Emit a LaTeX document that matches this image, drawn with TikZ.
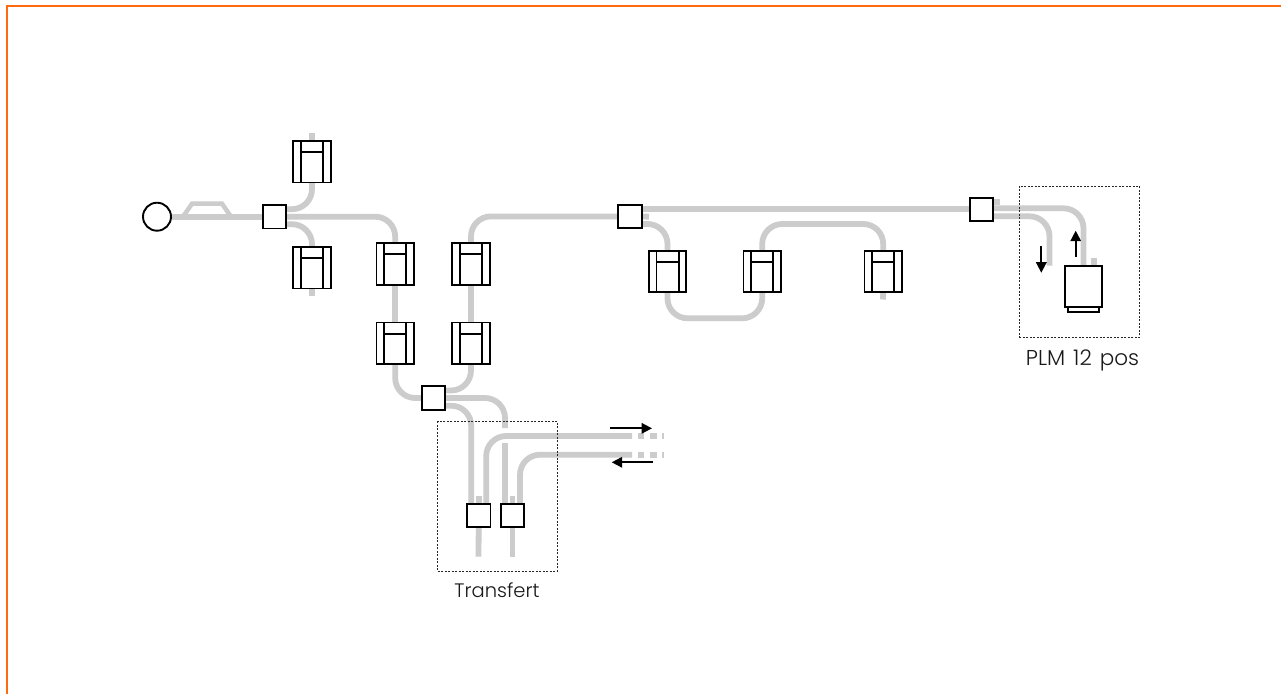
\documentclass[tikz,border=0pt]{standalone}
\usepackage{fontspec}
\setmainfont{Poppins Light}
\usetikzlibrary{calc,arrows.meta}
\definecolor{track}{HTML}{CCCCCC}
\definecolor{frame}{HTML}{FF6A10}
\tikzset{
  tr/.style={draw=track,line width=5.8pt,rounded corners=20pt},
  sw/.style={draw=black,fill=white,line width=1.9pt,inner sep=0,outer sep=0,minimum width=23.5pt,minimum height=23.5pt},
  machbox/.style={inner sep=0,outer sep=0,minimum width=37.5pt,minimum height=41.5pt},
  machine/.style={machbox,draw=black,fill=white,line width=1.9pt,
    path picture={
      \draw[line width=1.9pt] ([xshift=7.7pt]path picture bounding box.north west) -- ([xshift=7.7pt]path picture bounding box.south west);
      \draw[line width=1.9pt] ([xshift=-7.7pt]path picture bounding box.north east) -- ([xshift=-7.7pt]path picture bounding box.south east);
      \draw[line width=1.9pt] ([xshift=7.7pt,yshift=-11.3pt]path picture bounding box.north west) -- ([xshift=-7.7pt,yshift=-11.3pt]path picture bounding box.north east);
    }},
  zone/.style={draw=black!85,dash pattern=on 2pt off 1.5pt,line width=0.55pt,inner sep=0,outer sep=0},
  arr/.style={draw=black,line width=1.7pt,-{Triangle[length=10.5pt,width=10.5pt]}},
  lab/.style={font=\fontsize{19.5}{22}\selectfont,text=black!90,inner sep=0}
}
\begin{document}
\begin{tikzpicture}[x=1pt,y=-1pt]
\useasboundingbox (0,0) rectangle (1281,694);
\fill[white] (0,0) rectangle (1281,694);
\coordinate (tl) at (6.8,6);
\coordinate (bl) at (6.8,694);
\coordinate (tr0) at (1281,6);
\draw[frame,line width=2.1pt] (bl) -- (tl) -- (tr0);

% free ends
\coordinate (e1) at (312,133);
\coordinate (e2) at (312,296);
\coordinate (e3) at (883,299.5);
\coordinate (e4) at (505,428);
\coordinate (e5) at (505,443);
\coordinate (e6) at (632,436);
\coordinate (e7) at (632,454.7);
\coordinate (e8) at (478.5,556.7);
\coordinate (e9) at (512.5,556.7);
\coordinate (e10) at (1049.5,265.7);
\coordinate (e11) at (1094.3,258.3);
\coordinate (e12) at (649,216.7);
\coordinate (e13) at (1000,201.7);

% anchors for equipment; the equipment itself is drawn over the tracks
\path
  node[circle,minimum size=29pt,inner sep=0,outer sep=0] (start) at (157,216.7) {}
  node[sw,draw=none,fill=none] (s1) at (274.5,216.7) {}
  node[sw,draw=none,fill=none] (s2) at (433.3,398) {}
  node[sw,draw=none,fill=none] (s3) at (478.7,515.3) {}
  node[sw,draw=none,fill=none] (s4) at (512.5,515.3) {}
  node[sw,draw=none,fill=none] (s5) at (629.8,216.4) {}
  node[sw,draw=none,fill=none] (s6) at (981.3,209.3) {}
  node[machbox] (m1) at (312,161.7) {}
  node[machbox] (m2) at (312,267.7) {}
  node[machbox] (m3) at (395.2,263.8) {}
  node[machbox] (m4) at (395.2,343.2) {}
  node[machbox] (m5) at (471,263.8) {}
  node[machbox] (m6) at (471,343.2) {}
  node[machbox] (m7) at (667.5,271.3) {}
  node[machbox] (m8) at (762.2,271.3) {}
  node[machbox] (m9) at (883.2,271.3) {}
  node[machbox] (plm) at (1083.5,286.3) {};

% tracks
\draw[tr] (start.east) -- (s1.west);
\draw[tr,line width=4.5pt,rounded corners=0pt] (183,216.7) -- (192,203.7) -- (222,203.7) -- (231,216.7);
\draw[tr] ([yshift=7.5pt]s1.east) -| (m1.south);
\draw[tr] (e1) -- (m1.north);
\draw[tr] ([yshift=-7.5pt]s1.east) -| (m2.north);
\draw[tr] (m2.south) -- (e2);
\draw[tr] (s1.east) -| (m3.north);
\draw[tr] (m3.south) -- (m4.north);
\draw[tr] (m4.south) |- (s2.west);
\draw[tr] (m5.south) -- (m6.north);
\draw[tr] (m6.south) |- ([yshift=7.5pt]s2.east);
\draw[tr] (m5.north) |- (s5.west);
\draw[tr] (s2.east) -| (e4);
\draw[tr] ([yshift=-7.7pt]s2.east) -| ([xshift=-7.5pt]s3.north);
\draw[tr] (e5) -- ([xshift=-7.5pt]s4.north);
\draw[tr] ([xshift=7.5pt]s3.north) |- (e6);
\draw[tr] ([xshift=7.5pt]s4.north) |- (e7);
\draw[tr] (s3.north) -- +(0,-7.5);
\draw[tr] (s4.north) -- +(0,-7.5);
\draw[tr] (s3.south) -- (e8);
\draw[tr] (s4.south) -- (e9);
\draw[tr] (s5.east) -- (e12);
\draw[tr] ([yshift=7.4pt]s5.east) -- ([yshift=0.3pt]s6.west);
\draw[tr] ([yshift=-7.6pt]s5.east) -| (m7.north);
\draw[tr] (m7.south) |- (720,318.3) -| (m8.south);
\draw[tr] (m8.north) |- (820,224) -| (m9.north);
\draw[tr] (m9.south) -- (e3);
\draw[tr] ([yshift=1pt]s6.east) -| (plm.north);
\draw[tr] ([yshift=-7pt]s6.east) -| (e10);
\draw[tr] ([yshift=7.6pt]s6.east) -- (e13);
\draw[tr] (e11) -- (e11 |- plm.north);
% broken ends of the two lines
\foreach \yy in {436,454.7}{
  \draw[draw=track,line width=5.8pt] (638,\yy) -- (644,\yy);
  \draw[draw=track,line width=5.8pt] (650,\yy) -- (657,\yy);
  \draw[draw=track,line width=5.8pt] (662,\yy) -- (664,\yy);
}

% zones
\node[zone,minimum width=119.6pt,minimum height=149.6pt] (zt) at (497.5,496.5) {};
\node[zone,minimum width=120.4pt,minimum height=151.3pt] (zp) at (1079.5,261.7) {};

% equipment
\node[draw=black,fill=white,line width=1.9pt,circle,minimum size=28pt,inner sep=0,outer sep=0] at (start) {};
\foreach \n in {s1,s2,s3,s4,s5,s6}{\node[sw] at (\n) {};}
\foreach \n in {m1,m2,m3,m4,m5,m6,m7,m8,m9}{\node[machine] at (\n) {};}
\node[draw=black,fill=white,line width=1.6pt,minimum width=31pt,minimum height=6pt,inner sep=0,outer sep=0] (plmb) at (1083.4,308.8) {};
\node[machbox,draw=black,fill=white,line width=1.9pt] at (plm) {};

% arrows
\coordinate (a1s) at (610,428.3); \coordinate (a1e) at (652,428.3);
\coordinate (a2s) at (653,462.3); \coordinate (a2e) at (611.7,462.3);
\coordinate (a3s) at (1075.7,256.7); \coordinate (a3e) at (1075.7,230.7);
\coordinate (a4s) at (1041.3,246); \coordinate (a4e) at (1041.3,272.7);
\draw[arr] (a1s) -- (a1e);
\draw[arr] (a2s) -- (a2e);
\draw[arr] (a3s) -- (a3e);
\draw[arr] (a4s) -- (a4e);

\node[lab] (lt) at (497,590) {Transfert};
\node[lab,font=\fontsize{21.5}{22}\selectfont] (lp) at (1082.5,360) {\spaceskip=8pt PLM 12 pos};
\end{tikzpicture}
\end{document}
